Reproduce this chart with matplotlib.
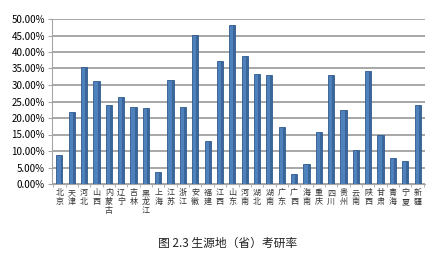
import matplotlib
matplotlib.use("Agg")
import matplotlib.pyplot as plt
from matplotlib.ticker import FuncFormatter, MultipleLocator
import numpy as np

plt.rcParams['font.family'] = ['Noto Sans CJK SC', 'DejaVu Sans']

provinces = ["北京", "天津", "河北", "山西", "内蒙古", "辽宁", "吉林", "黑龙江", "上海", "江苏",
             "浙江", "安徽", "福建", "江西", "山东", "河南", "湖北", "湖南", "广东", "广西",
             "海南", "重庆", "四川", "贵州", "云南", "陕西", "甘肃", "青海", "宁夏", "新疆"]
rates = [8.9, 21.9, 35.6, 31.1, 23.8, 26.3, 23.3, 23.0, 3.7, 31.5,
         23.3, 45.3, 13.1, 37.4, 48.1, 38.7, 33.4, 33.0, 17.4, 3.1,
         6.2, 15.9, 33.0, 22.3, 10.4, 34.1, 14.8, 7.8, 6.9, 23.9]
caption = "图 2.3 生源地（省）考研率"

fig = plt.figure(figsize=(4.36, 2.56), dpi=100)
ax = fig.add_axes([52/436, 1-184/256, (425-52)/436, (184-19)/256])

x = np.arange(len(provinces))
ax.bar(x, rates, width=0.5, color='#4F81BD', edgecolor='#2F5A8C', linewidth=0.6, zorder=3)
# darker side for pseudo-3D look
ax.bar(x + 0.17, rates, width=0.16, color='#3A6699', linewidth=0, zorder=4)

ax.set_ylim(0, 50)
ax.set_xlim(-0.6, len(provinces) - 0.4)
ax.yaxis.set_major_locator(MultipleLocator(5))
ax.yaxis.set_major_formatter(FuncFormatter(lambda v, p: f"{v:.2f}%"))
ax.grid(axis='y', color='#A0A0A0', linewidth=1.3, zorder=0)
for s in ['top', 'right']:
    ax.spines[s].set_visible(False)
ax.spines['left'].set_color('#A6A6A6')
ax.spines['bottom'].set_color('#A6A6A6')
ax.tick_params(axis='y', labelsize=7, length=3, color='#A6A6A6', pad=2)
ax.set_xticks(x)
ax.set_xticklabels(["\n".join(p) for p in provinces], fontsize=5.8, linespacing=1.0,
                   color='#333333')
ax.tick_params(axis='x', length=0, pad=3)
ax.set_xticks(np.arange(len(provinces) + 1) - 0.5, minor=True)
ax.tick_params(axis='x', which='minor', length=2, color='#A6A6A6')
for lbl in ax.get_xticklabels():
    lbl.set_verticalalignment('top')

fig.text(228/436, 1-243/256, caption, ha='center', va='center', fontsize=8.5, color='#222222')

fig.savefig("out.png", dpi=100)
